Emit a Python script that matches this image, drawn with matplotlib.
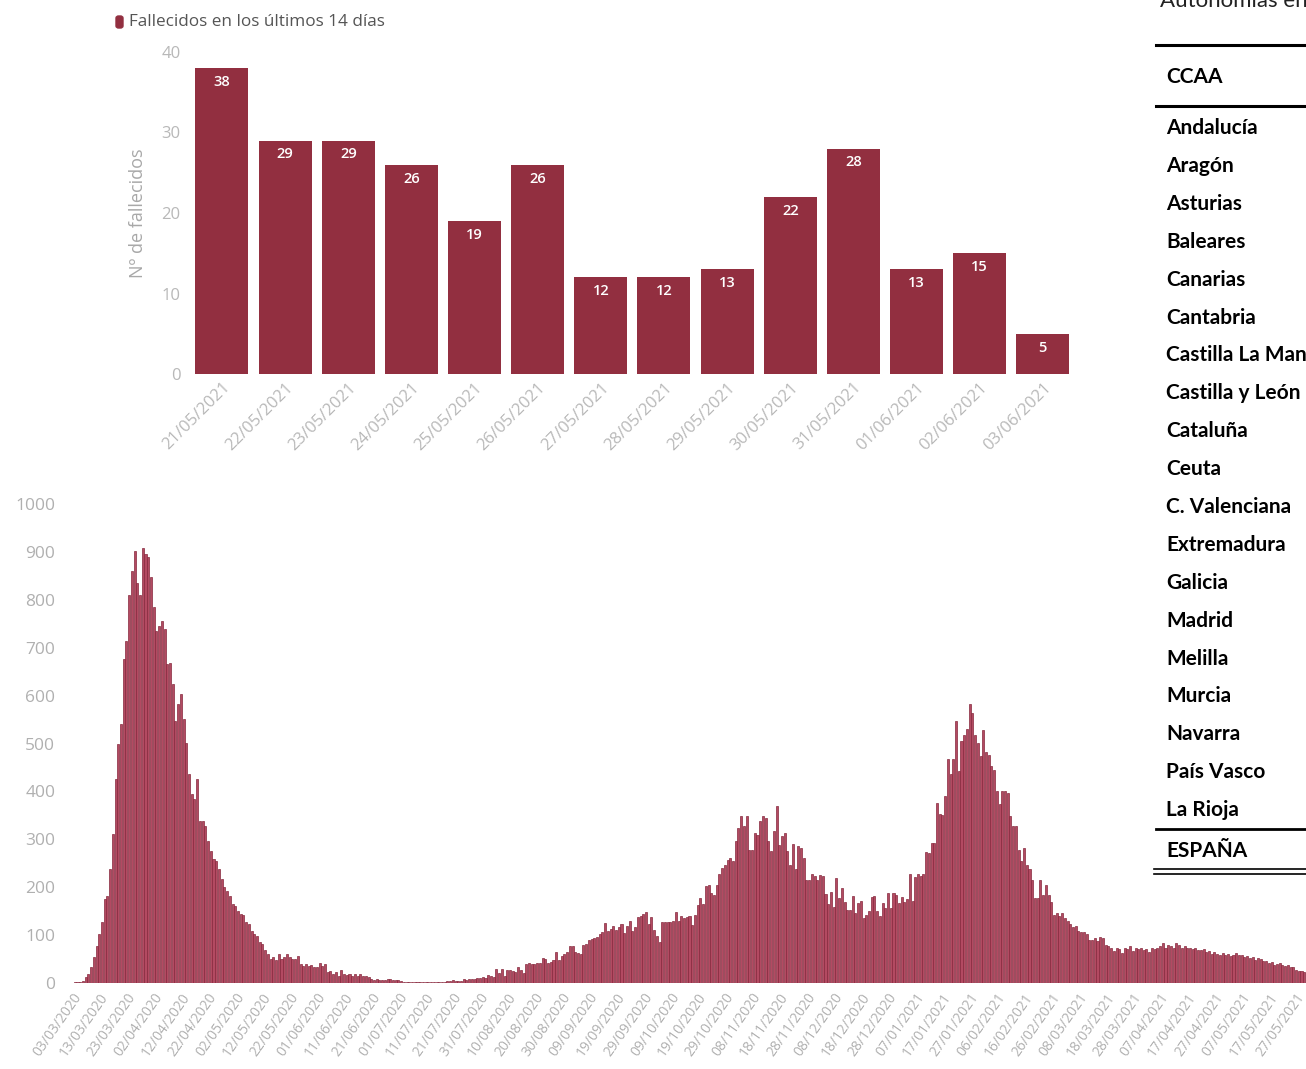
import matplotlib.pyplot as plt
import numpy as np
import pandas as pd
from matplotlib.patches import FancyBboxPatch
from matplotlib.lines import Line2D

plt.rcParams['font.family'] = ['Open Sans', 'DejaVu Sans']

# ----------------- Data -----------------

# Last 14 days
fechas_14 = ['21/05/2021', '22/05/2021', '23/05/2021', '24/05/2021', '25/05/2021',
             '26/05/2021', '27/05/2021', '28/05/2021', '29/05/2021', '30/05/2021',
             '31/05/2021', '01/06/2021', '02/06/2021', '03/06/2021']
fallecidos_14 = [38, 29, 29, 26, 19, 26, 12, 12, 13, 22, 28, 13, 15, 5]

# Daily deaths since 03/03/2020
fecha_inicio = '2020-03-03'
fallecidos_diarios = [
    1, 2, 2, 3, 5,
    12, 19, 33, 54, 78, 102, 127, 175, 182, 238,
    311, 426, 499, 541, 676, 715, 809, 861, 902, 836,
    809, 909, 896, 889, 847, 784, 735, 746, 756, 739,
    666, 669, 624, 548, 582, 603, 551, 502, 436, 395,
    384, 426, 339, 339, 328, 297, 276, 259, 255, 238,
    217, 200, 193, 182, 165, 161, 151, 144, 141, 127,
    123, 109, 102, 99, 85, 81, 68, 61, 50, 54,
    47, 61, 50, 54, 61, 54, 50, 50, 57, 40,
    36, 40, 36, 38, 34, 33, 41, 36, 40, 22,
    26, 19, 24, 15, 27, 19, 17, 19, 15, 19, 15,
    19, 15, 14, 12, 9, 7, 8, 6, 7, 6, 8, 8, 7, 6, 7, 5, 3, 2,
    2, 3, 2, 2, 3, 2, 2, 3, 2, 2, 2, 3, 2, 3, 4,
    5, 6, 5, 4, 5, 8, 7, 8, 9, 8,
    10, 11, 12, 10, 17, 14, 12, 29, 20, 29,
    15, 28, 27, 26, 24, 33, 27, 20, 40, 42,
    40, 40, 41, 41, 52, 50, 41, 44, 48, 65,
    48, 56, 61, 64, 78, 78, 64, 62, 61, 79,
    81, 90, 91, 93, 95, 102, 106, 125, 109, 112,
    118, 111, 116, 123, 104, 118, 129, 109, 116, 137,
    140, 144, 149, 123, 137, 110, 99, 85, 127, 127,
    127, 127, 130, 148, 130,
    139, 136, 137, 139, 122, 143, 162, 177, 165, 202,
    205, 188, 184, 205, 228, 240, 247, 257, 262, 255,
    297, 324, 349, 327, 349, 278, 278, 313, 310, 338,
    348, 344, 297, 275, 317, 369, 289, 306, 313, 275,
    247, 290, 237, 285, 282, 262, 214, 214, 228, 223,
    214, 226, 223, 186, 164, 191, 158, 219, 177, 198,
    170, 153, 153, 181, 146, 167, 172, 136, 141, 150,
    179, 181, 150, 139, 167, 157, 188, 157, 188, 184,
    167, 179, 170, 176, 228, 172, 221, 228, 223, 228,
    273, 271, 292, 292, 376, 353, 351, 390, 468, 436,
    468, 548, 442, 505, 518, 530, 582, 564, 517, 501,
    473, 528, 482, 475, 454, 445, 400, 374, 400, 400,
    397,
    348, 327, 327, 278, 254, 282, 247, 237, 216, 177,
    177, 216, 184, 204, 184, 170, 143, 146, 139, 146,
    136, 129, 123, 116, 118, 108, 106, 106, 102, 90,
    90, 93, 87, 95, 94, 80, 77, 74, 66, 74,
    70, 63, 73, 70, 77, 66, 73, 70, 73, 68,
    70, 65, 73, 70, 73, 77, 84, 74, 80, 77,
    73, 84, 80, 73, 77, 74, 73, 70, 74, 68,
    68, 70, 65, 66, 61, 65, 61, 59, 63, 59,
    61, 56, 58, 63, 59, 58, 54, 56, 52, 54,
    49, 52, 51, 45, 45, 42, 44, 38, 40, 42,
    38, 35, 37, 33, 33, 28, 26, 26, 24, 30,
]
fecha_ultimo_tick = '2021-05-27'

# Table of regions
ccaa = ['Andalucía', 'Aragón', 'Asturias', 'Baleares', 'Canarias', 'Cantabria',
        'Castilla La Mancha', 'Castilla y León', 'Cataluña', 'Ceuta',
        'C. Valenciana', 'Extremadura', 'Galicia', 'Madrid', 'Melilla',
        'Murcia', 'Navarra', 'País Vasco', 'La Rioja']

# ----------------- Layout helpers (pixels -> figure fraction) -----------------

W, H = 1306, 1069


def fx(px):
    return px / W


def fy(py):
    return 1 - py / H


fig = plt.figure(figsize=(W / 100, H / 100), dpi=100)

# ----------------- Top chart: last 14 days -----------------

ax1 = fig.add_axes([fx(190.4), fy(374), 884 / W, 322 / H])
x = np.arange(len(fechas_14))
ax1.bar(x, fallecidos_14, width=0.84, color='#922f40')
for xi, v in zip(x, fallecidos_14):
    ax1.annotate(str(v), (xi, v), xytext=(0, -10), textcoords='offset points',
                 ha='center', va='center', color='white', fontsize=10.5,
                 fontweight='semibold')
ax1.set_xlim(-0.5, len(fechas_14) - 0.5)
ax1.set_ylim(0, 40)
ax1.set_yticks(range(0, 41, 10))
ax1.set_xticks(x)
ax1.set_xticklabels(fechas_14, rotation=45, ha='right', rotation_mode='anchor')
ax1.tick_params(axis='x', length=0, colors='#b8b8b8', labelsize=12, pad=4)
ax1.tick_params(axis='y', length=0, colors='#b8b8b8', labelsize=12, pad=7)
for s in ax1.spines.values():
    s.set_visible(False)
ax1.set_ylabel('Nº de fallecidos', color='#a8a8a8', fontsize=13)
ax1.yaxis.set_label_coords((147 - 190.4) / 884, 0.5)

# legend
fig.patches.append(FancyBboxPatch((fx(116), fy(28)), 7 / W, 12 / H,
                                  boxstyle='round,pad=0,rounding_size=0.002',
                                  transform=fig.transFigure, color='#922f40'))
fig.text(fx(129), fy(22), 'Fallecidos en los últimos 14 días', va='center',
         fontsize=12.3, color='#555555')

# ----------------- Bottom chart: daily series -----------------

ax2 = fig.add_axes([fx(65), fy(983), (W - 65) / W, 479 / H])
fechas = pd.date_range(fecha_inicio, periods=len(fallecidos_diarios))
ax2.bar(fechas, fallecidos_diarios, width=0.75, color='#b34a62',
        edgecolor='#86283d', linewidth=0.5)
inicio = pd.Timestamp(fecha_inicio)
ax2.set_xlim(inicio - pd.Timedelta(days=2.6),
             inicio + pd.Timedelta(days=(W - 65) / 2.72 - 2.6))
ax2.set_ylim(0, 1000)
ax2.set_yticks(range(0, 1001, 100))
ticks = pd.date_range(fecha_inicio, fecha_ultimo_tick, freq='10D')
ax2.set_xticks(ticks)
ax2.set_xticklabels([t.strftime('%d/%m/%Y') for t in ticks], rotation=55,
                    ha='right', rotation_mode='anchor')
ax2.tick_params(axis='x', length=0, colors='#b0b0b0', labelsize=10, pad=5)
ax2.tick_params(axis='y', length=0, colors='#b0b0b0', labelsize=12.5, pad=7)
for s in ax2.spines.values():
    s.set_visible(False)

# ----------------- Right table (cut off) -----------------

tabla_font = ['Lato', 'DejaVu Sans']
fig.text(fx(1160), fy(7), 'Autonomías en', fontsize=16, va='baseline',
         color='#222222', family=tabla_font)


def hline(py, lw, x0=1156):
    fig.add_artist(Line2D([fx(x0), 1.0], [fy(py), fy(py)], lw=lw, color='black',
                          transform=fig.transFigure))


hline(45, 2.2)
hline(106, 2.2)
hline(829, 2.0)
hline(869, 1.2, x0=1154)
hline(873.5, 1.2, x0=1154)

fig.text(fx(1166), fy(77), 'CCAA', fontsize=15, fontweight='bold',
         va='center', family=tabla_font)
for i, nombre in enumerate(ccaa):
    fig.text(fx(1166), fy(128 + i * 37.9), nombre, fontsize=15,
             fontweight='bold', va='center', family=tabla_font)
fig.text(fx(1166), fy(851), 'ESPAÑA', fontsize=15, fontweight='bold',
         va='center', family=tabla_font)

fig.savefig('out.png', dpi=100)
